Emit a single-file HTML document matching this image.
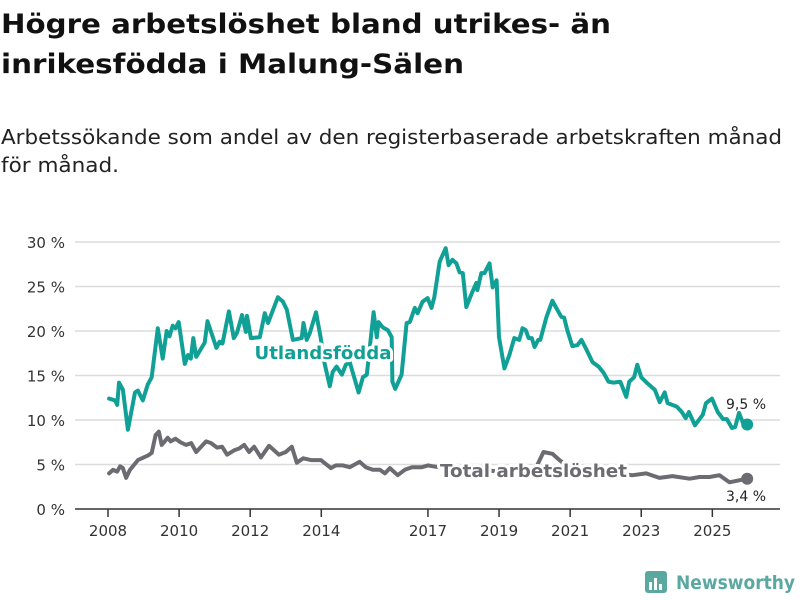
<!DOCTYPE html>
<html><head><meta charset="utf-8"><style>
html,body{margin:0;padding:0;background:#fff;}
svg{display:block;font-family:"DejaVu Sans","Liberation Sans",sans-serif;}
</style></head><body>
<svg id="chart" width="800" height="600" viewBox="0 0 800 600">
<text x="1" y="33" font-size="27" font-weight="bold" fill="#111" textLength="610" lengthAdjust="spacingAndGlyphs">Högre arbetslöshet bland utrikes- än</text>
<text x="1" y="73" font-size="27" font-weight="bold" fill="#111" textLength="463" lengthAdjust="spacingAndGlyphs">inrikesfödda i Malung-Sälen</text>
<text x="1" y="144" font-size="20" fill="#222" textLength="781" lengthAdjust="spacingAndGlyphs">Arbetssökande som andel av den registerbaserade arbetskraften månad</text>
<text x="1" y="172" font-size="20" fill="#222" textLength="118" lengthAdjust="spacingAndGlyphs">för månad.</text>
<g id="grid"></g><g id="xaxis"></g><g id="series"></g><g id="labels"></g>
<g>
<rect x="645" y="571" width="22" height="22" rx="3" fill="#5aa8a0"/>
<rect x="649" y="582" width="3" height="8" fill="#fff"/><rect x="654" y="578" width="3" height="12" fill="#fff"/><rect x="659" y="584" width="3" height="6" fill="#fff"/>
<text x="676" y="589" font-size="19" font-weight="bold" fill="#5aa8a0" textLength="119" lengthAdjust="spacingAndGlyphs">Newsworthy</text>
</g>
</svg>
<script>
const yTicks=[0,5,10,15,20,25,30];
const xTicks=[2008,2010,2012,2014,2017,2019,2021,2023,2025];
const foreignDates=[2008.03,2008.2,2008.26,2008.31,2008.42,2008.56,2008.76,2008.84,2008.98,2009.12,2009.23,2009.4,2009.54,2009.65,2009.73,2009.82,2009.9,2009.99,2010.16,2010.25,2010.33,2010.4,2010.48,2010.72,2010.8,2011.05,2011.14,2011.22,2011.4,2011.54,2011.63,2011.77,2011.88,2011.91,2012.02,2012.27,2012.41,2012.5,2012.78,2012.92,2013.03,2013.2,2013.45,2013.5,2013.59,2013.68,2013.85,2013.98,2014.09,2014.24,2014.32,2014.43,2014.58,2014.69,2014.8,2015.05,2015.17,2015.28,2015.31,2015.47,2015.56,2015.61,2015.73,2015.87,2015.98,2016.0,2016.08,2016.26,2016.4,2016.49,2016.63,2016.71,2016.85,2016.99,2017.1,2017.18,2017.33,2017.5,2017.58,2017.69,2017.8,2017.89,2017.98,2018.08,2018.25,2018.36,2018.39,2018.5,2018.59,2018.73,2018.82,2018.93,2019.0,2019.15,2019.29,2019.43,2019.57,2019.66,2019.75,2019.83,2019.92,2020.0,2020.1,2020.16,2020.33,2020.5,2020.61,2020.75,2020.83,2020.92,2021.06,2021.2,2021.32,2021.46,2021.63,2021.8,2021.94,2022.08,2022.22,2022.41,2022.58,2022.66,2022.8,2022.89,2023.0,2023.15,2023.38,2023.52,2023.66,2023.74,2024.0,2024.14,2024.25,2024.34,2024.51,2024.73,2024.82,2024.99,2025.15,2025.3,2025.41,2025.55,2025.64,2025.75,2025.86,2025.98];
const foreignValues=[12.4,12.2,11.7,14.2,13.4,8.9,13.1,13.3,12.2,14.0,14.8,20.3,16.9,20.0,19.4,20.6,20.3,21.0,16.3,17.3,16.9,19.2,17.1,18.7,21.1,18.1,18.8,18.6,22.2,19.2,19.8,21.8,19.9,21.7,19.2,19.3,22.0,20.9,23.8,23.3,22.4,19.0,19.2,20.9,19.0,19.8,22.1,19.3,16.4,13.8,15.4,16.0,15.1,16.2,16.5,13.1,14.8,15.1,16.2,22.1,19.3,21.0,20.4,20.1,19.3,14.3,13.5,15.1,20.9,21.0,22.6,22.0,23.3,23.7,22.6,23.8,27.8,29.3,27.4,28.0,27.6,26.6,26.5,22.7,24.4,25.4,24.6,26.5,26.5,27.6,24.9,25.7,19.3,15.8,17.3,19.2,19.0,20.3,20.1,19.2,19.2,18.2,19.0,19.0,21.5,23.4,22.6,21.6,21.5,20.1,18.3,18.4,19.0,17.9,16.5,16.0,15.3,14.3,14.2,14.3,12.6,14.3,14.8,16.2,14.8,14.2,13.4,12.0,13.1,11.9,11.5,10.9,10.2,10.9,9.4,10.6,11.9,12.4,10.9,10.1,10.1,9.1,9.2,10.8,9.7,9.5];
const totalDates=[2008.03,2008.14,2008.26,2008.34,2008.42,2008.51,2008.62,2008.84,2009.12,2009.23,2009.34,2009.43,2009.51,2009.68,2009.76,2009.9,2010.04,2010.2,2010.34,2010.48,2010.76,2010.9,2011.07,2011.21,2011.35,2011.55,2011.69,2011.83,2011.97,2012.11,2012.3,2012.53,2012.81,2013.0,2013.17,2013.31,2013.49,2013.71,2013.99,2014.27,2014.41,2014.61,2014.8,2015.08,2015.25,2015.45,2015.65,2015.79,2015.93,2016.15,2016.35,2016.55,2016.83,2017.0,2017.14,2017.5,2018.0,2018.5,2019.0,2019.5,2020.0,2020.25,2020.5,2020.7,2021.0,2021.5,2022.0,2022.5,2022.75,2023.14,2023.51,2023.88,2024.36,2024.64,2024.92,2025.2,2025.48,2025.98];
const totalValues=[4.0,4.4,4.2,4.8,4.6,3.5,4.4,5.5,6.0,6.3,8.3,8.7,7.2,8.0,7.6,7.9,7.5,7.2,7.4,6.4,7.6,7.4,6.9,7.0,6.1,6.6,6.8,7.2,6.4,7.0,5.8,7.1,6.1,6.4,7.0,5.2,5.7,5.5,5.5,4.6,4.9,4.9,4.7,5.3,4.7,4.4,4.4,4.0,4.6,3.8,4.4,4.7,4.7,4.9,4.8,4.6,4.6,4.4,4.2,4.0,4.3,6.4,6.2,5.5,4.6,4.3,4.0,3.9,3.8,4.0,3.5,3.7,3.4,3.6,3.6,3.8,3.0,3.4];
const NS='http://www.w3.org/2000/svg';
const x0=108,yr0=2008,pxYear=35.55,y0=509,pxPct=8.9;
function sx(t){return x0+(t-yr0)*pxYear;}
function sy(v){return y0-v*pxPct;}
function mk(tag,attrs,parent){const e=document.createElementNS(NS,tag);for(const k in attrs)e.setAttribute(k,attrs[k]);parent.appendChild(e);return e;}
const grid=document.getElementById('grid');
yTicks.forEach(v=>{
  const l=mk('line',{x1:75,x2:780,y1:sy(v),y2:sy(v),stroke:v===0?'#333':'#dcdcdc','stroke-width':1.5},grid);
  
  
  const t=mk('text',{x:65,y:sy(v)+6,'text-anchor':'end','font-size':15,fill:'#333'},grid);
  t.textContent=v+' %';
  
  
});
const xa=document.getElementById('xaxis');
xTicks.forEach(yv=>{
  const l=mk('line',{x1:sx(yv),x2:sx(yv),y1:509,y2:517,stroke:'#333','stroke-width':1.5},xa);
  
  
  const t=mk('text',{x:sx(yv),y:536,'text-anchor':'middle','font-size':15,fill:'#333'},xa);
  t.textContent=yv;
  
  
});
const sg=document.getElementById('series');
function line(dates,vals,color,name){
  const d=dates.map((t,i)=>(i?'L':'M')+sx(t).toFixed(1)+','+sy(vals[i]).toFixed(1)).join('');
  const p=mk('path',{d:d,fill:'none',stroke:color,'stroke-width':4,'stroke-linejoin':'round','stroke-linecap':'round'},sg);
  
  
  const n=dates.length-1;
  const c=mk('circle',{cx:sx(dates[n]),cy:sy(vals[n]),r:6,fill:color},sg);
  
  
}
line(totalDates,totalValues,'#6c6b71','total');
line(foreignDates,foreignValues,'#10a095','foreign');
const lg=document.getElementById('labels');
const l1=mk('text',{x:323,y:359,'text-anchor':'middle','font-size':18,'font-weight':'bold',fill:'#10a095',stroke:'#fff','stroke-width':6,'paint-order':'stroke','stroke-linejoin':'round',textLength:137,lengthAdjust:'spacingAndGlyphs'},lg);
l1.textContent='Utlandsfödda';


const l2=mk('text',{x:440,y:477,'font-size':18,'font-weight':'bold',fill:'#6c6b71',stroke:'#fff','stroke-width':6,'paint-order':'stroke','stroke-linejoin':'round',textLength:187,lengthAdjust:'spacingAndGlyphs'},lg);
l2.textContent='Total arbetslöshet';


const fn=foreignValues.length-1,tn=totalValues.length-1;
const v1=mk('text',{x:746,y:409,'text-anchor':'middle','font-size':14,fill:'#222'},lg);
v1.textContent=String(foreignValues[fn]).replace('.',',')+' %';


const v2=mk('text',{x:746,y:501,'text-anchor':'middle','font-size':14,fill:'#222'},lg);
v2.textContent=String(totalValues[tn]).replace('.',',')+' %';


</script>
</body></html>
